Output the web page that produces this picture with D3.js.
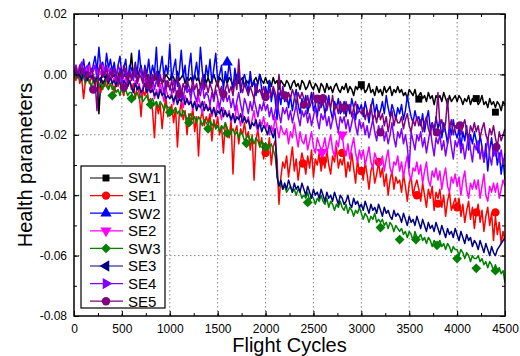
<!DOCTYPE html>
<html>
<head>
<meta charset="utf-8">
<script src="https://cdn.jsdelivr.net/npm/d3@7"></script>
<style>
body { margin: 0; background: #fff; }
svg { display: block; }
text { font-family: Arial, "Liberation Sans", sans-serif; fill: #000; }
</style>
</head>
<body>
<svg id="chart" width="520" height="356"></svg>
<script>
// health parameter values, in units of 1e-3,
// one sample every cycleStep flight cycles (0 .. 4500), one row = 200 cycles
const cycleStep = 20;

const sw1 = [
  0, 1, -1, 0, 2, -1, 1, -2, 0, 1,
  -1, -3, 0, -13, -2, 1, -1, 0, -2, 1,
  -1, 0, -3, -1, 2, -2, 0, -1, -3, 0,
  7, -1, 0, -2, 1, 3, -1, -3, 0, -2,
  -1, -3, 0, -2, 1, -1, -3, -2, 0, -1,
  -2, 0, -1, -3, 1, -2, -1, 0, -3, -1,
  -2, -1, -3, 0, -2, -1, -4, -2, 0, -3,
  -1, -3, -2, 0, -2, -4, -1, -2, -3, -1,
  -3, -1, -2, -4, -2, 0, -3, -2, -1, -4,
  -2, -3, -1, -4, -2, -1, -3, 0, -2, -3,
  -1, -3, -2, -4, -1, -3, -2, -5, -2, -3,
  -4, -2, -3, -5, -3, -2, -4, -3, -5, -2,
  -3, -5, -4, -2, -4, -5, -3, -4, -6, -3,
  -4, -6, -3, -5, -4, -6, -4, -3, -5, -6,
  -4, -5, -3, -6, -4, -5, -7, -4, -5, -3,
  -5, -4, -6, -5, -3, -6, -5, -7, -4, -6,
  -5, -7, -4, -6, -5, -4, -7, -5, -6, -4,
  -6, -5, -7, -6, -8, -5, -6, -7, -5, -8,
  -7, -6, -8, -7, -9, -6, -8, -7, -10, -7,
  -8, -7, -9, -6, -8, -10, -7, -9, -8, -7,
  -9, -7, -8, -10, -8, -9, -7, -10, -8, -9,
  -8, -10, -9, -7, -10, -9, -11, -8, -10, -9,
  -11, -9, -10, -12, -9, -10
];
const se1 = [
  0, -2, 1, -3, -1, -8, -2, 0, -3, -1,
  -2, -4, -1, -3, -6, -2, -4, -1, -5, -3,
  -3, -6, -2, -4, -1, -5, -7, -3, -4, -2,
  -5, -3, -8, -4, -6, -14, -5, -7, -4, -9,
  -8, -12, -21, -9, -13, -10, -18, -11, -8, -14,
  -12, -10, -16, -11, -24, -13, -9, -15, -12, -20,
  -13, -16, -11, -19, -14, -27, -15, -12, -17, -14,
  -16, -13, -22, -15, -18, -14, -20, -17, -26, -16,
  -18, -21, -15, -33, -19, -17, -23, -18, -20, -16,
  -21, -19, -25, -20, -35, -22, -18, -24, -21, -28,
  -23, -26, -21, -30, -24, -22, -28, -43, -34, -29,
  -31, -27, -34, -29, -24, -32, -28, -35, -30, -26,
  -29, -33, -27, -31, -25, -34, -28, -30, -26, -32,
  -28, -31, -25, -30, -33, -27, -29, -24, -31, -28,
  -30, -27, -34, -29, -32, -26, -31, -36, -28, -33,
  -31, -35, -29, -33, -38, -32, -30, -36, -33, -29,
  -34, -31, -37, -33, -40, -35, -32, -38, -34, -36,
  -35, -39, -33, -37, -42, -36, -34, -40, -37, -35,
  -38, -42, -36, -40, -44, -38, -41, -37, -45, -39,
  -41, -38, -44, -40, -47, -42, -39, -45, -43, -41,
  -44, -41, -47, -43, -49, -45, -42, -48, -44, -51,
  -46, -43, -49, -45, -52, -47, -44, -50, -46, -55,
  -47, -53, -49, -56, -52, -55
];
const sw2 = [
  0, 2, -1, 3, 1, 5, 0, 2, 4, -1,
  3, 6, 1, 9, 2, 4, 0, 7, 2, 5,
  1, 4, -1, 3, 6, 0, 2, 5, -2, 3,
  2, -1, 4, 0, 8, 1, -2, 3, 0, 5,
  -1, 3, 0, 9, -3, 2, 6, -1, 3, 0,
  10, -2, 2, 5, -4, 1, 8, -1, 3, -5,
  2, 7, -3, 0, 4, -2, 9, 1, -4, 3,
  -1, 5, -3, 2, 7, -2, 0, 3, -5, 1,
  -2, 4, -1, -5, 2, -3, 1, -6, -2, 0,
  -3, -6, 1, -4, -2, -7, -3, 0, -5, -8,
  -4, -7, -2, -9, -5, -8, -15, -6, -10, -4,
  -9, -6, -11, -7, -12, -8, -5, -10, -13, -8,
  -11, -7, -13, -9, -6, -12, -10, -14, -8, -11,
  -9, -13, -10, -7, -12, -15, -9, -11, -8, -13,
  -12, -9, -14, -10, -13, -8, -11, -15, -10, -12,
  -10, -14, -9, -12, -16, -11, -8, -13, -10, -14,
  -12, -9, -13, -7, -11, -14, -10, -12, -15, -11,
  -13, -10, -15, -12, -7, -11, -14, -16, -12, -15,
  -14, -17, -13, -19, -15, -12, -18, -16, -20, -14,
  -18, -15, -21, -16, -19, -23, -17, -20, -15, -19,
  -21, -18, -24, -19, -22, -17, -25, -20, -23, -19,
  -22, -26, -20, -24, -29, -23, -32, -25, -21, -27,
  -24, -30, -26, -33, -28, -35
];
const se2 = [
  0, 3, 1, 2, 4, 0, 2, 1, 3, 0,
  1, 3, -1, 2, 0, 3, 1, -1, 2, 0,
  -3, -1, -4, -2, 0, -5, -3, -1, -4, -2,
  -4, -6, -2, -5, -3, -7, -4, -2, -6, -5,
  -6, -4, -8, -5, -7, -3, -6, -9, -5, -7,
  -8, -6, -10, -7, -9, -5, -8, -11, -7, -9,
  -10, -8, -12, -9, -11, -7, -10, -13, -9, -11,
  -12, -10, -14, -11, -13, -9, -12, -15, -11, -13,
  -14, -12, -16, -13, -15, -10, -14, -17, -13, -15,
  -16, -14, -18, -15, -12, -17, -19, -15, -17, -14,
  -18, -16, -20, -17, -19, -14, -18, -21, -17, -19,
  -20, -18, -23, -19, -21, -16, -20, -24, -19, -22,
  -23, -20, -25, -22, -19, -24, -26, -21, -23, -25,
  -24, -21, -26, -23, -20, -25, -27, -22, -24, -19,
  -20, -25, -27, -23, -28, -24, -21, -26, -29, -25,
  -28, -25, -30, -27, -24, -29, -31, -26, -28, -30,
  -30, -27, -32, -28, -25, -31, -33, -29, -30, -27,
  -32, -29, -34, -30, -27, -33, -35, -31, -32, -29,
  -33, -30, -36, -32, -29, -35, -37, -32, -34, -31,
  -35, -32, -38, -34, -31, -37, -39, -34, -36, -33,
  -37, -34, -40, -35, -32, -38, -41, -36, -38, -35,
  -38, -35, -41, -37, -33, -40, -42, -37, -39, -36,
  -39, -36, -41, -38, -35, -37
];
const sw3 = [
  0, -1, 1, -2, 0, -1, -3, -1, -2, -4,
  -2, -3, -1, -4, -3, -5, -2, -4, -5, -3,
  -5, -4, -6, -5, -7, -4, -6, -5, -7, -6,
  -6, -8, -7, -6, -8, -7, -9, -8, -7, -9,
  -9, -8, -10, -9, -11, -9, -10, -12, -10, -11,
  -11, -13, -12, -11, -13, -12, -14, -12, -13, -15,
  -14, -13, -15, -14, -16, -14, -15, -17, -15, -16,
  -17, -15, -17, -16, -18, -17, -19, -17, -18, -16,
  -18, -20, -19, -18, -20, -19, -21, -19, -20, -22,
  -21, -20, -22, -21, -23, -21, -22, -24, -22, -23,
  -23, -25, -24, -23, -25, -27, -33, -37, -36, -38,
  -37, -39, -38, -37, -39, -38, -40, -38, -39, -41,
  -40, -41, -39, -42, -40, -41, -43, -41, -42, -40,
  -42, -43, -41, -44, -42, -43, -45, -43, -44, -42,
  -44, -45, -43, -46, -44, -45, -47, -45, -46, -44,
  -46, -48, -46, -47, -49, -47, -48, -46, -49, -48,
  -49, -48, -50, -49, -51, -49, -50, -52, -50, -51,
  -52, -51, -53, -52, -54, -52, -53, -55, -52, -54,
  -54, -53, -55, -54, -56, -54, -55, -57, -55, -56,
  -56, -55, -57, -56, -58, -56, -57, -59, -57, -58,
  -58, -60, -58, -59, -61, -59, -60, -62, -60, -61,
  -61, -60, -62, -61, -63, -62, -64, -62, -63, -65,
  -63, -65, -64, -66, -65, -69
];
const se3 = [
  0, 1, -1, 0, -2, 1, -1, -2, 0, -1,
  -1, -3, 0, -2, -1, -3, -2, 0, -3, -1,
  -3, -2, -4, -1, -3, -5, -2, -3, -4, -2,
  -4, -6, -3, -5, -4, -6, -5, -3, -6, -4,
  -6, -5, -7, -6, -8, -5, -7, -6, -8, -7,
  -8, -7, -9, -7, -10, -8, -9, -7, -10, -8,
  -10, -9, -11, -9, -12, -10, -11, -9, -12, -10,
  -12, -11, -13, -11, -14, -12, -13, -11, -14, -12,
  -14, -13, -15, -13, -16, -14, -15, -13, -16, -14,
  -16, -15, -18, -16, -17, -15, -18, -16, -19, -17,
  -18, -20, -17, -19, -21, -18, -34, -37, -35, -38,
  -36, -38, -35, -37, -39, -36, -38, -37, -39, -36,
  -38, -40, -37, -39, -41, -38, -40, -39, -41, -38,
  -40, -42, -39, -41, -40, -42, -39, -41, -43, -40,
  -41, -43, -42, -40, -43, -44, -41, -43, -42, -44,
  -43, -45, -42, -44, -46, -43, -45, -44, -46, -43,
  -45, -47, -44, -46, -45, -47, -48, -45, -47, -46,
  -47, -49, -46, -48, -50, -47, -49, -48, -50, -47,
  -49, -51, -48, -50, -52, -49, -51, -50, -52, -49,
  -51, -53, -50, -52, -54, -51, -53, -52, -54, -51,
  -53, -55, -52, -54, -56, -53, -55, -54, -57, -55,
  -56, -58, -55, -57, -59, -56, -58, -60, -57, -59,
  -60, -58, -57, -56, -55, -54
];
const se4 = [
  0, 3, -1, 2, 4, 0, 2, 3, -1, 2,
  1, 3, -1, 2, 4, 0, 1, 3, -2, 2,
  0, 2, -2, 3, 1, -3, 0, 2, -2, 1,
  0, -2, 2, -3, -1, 2, -2, 0, -3, -1,
  -3, -1, -5, -2, -4, 0, -3, -6, -2, -4,
  -4, -6, -2, -5, -7, -3, -5, -8, -4, -6,
  -5, -8, -4, -7, -9, -5, -7, -3, -8, -6,
  -7, -10, -6, -9, -5, -8, -11, -7, -9, -6,
  -9, -7, -11, -8, -12, -9, -6, -10, -13, -8,
  -10, -13, -9, -12, -8, -11, -14, -10, -12, -9,
  -12, -10, -14, -11, -15, -12, -9, -13, -16, -11,
  -13, -11, -15, -12, -16, -13, -10, -14, -17, -12,
  -14, -12, -16, -13, -17, -14, -11, -15, -18, -13,
  -15, -13, -17, -14, -18, -15, -12, -16, -19, -14,
  -16, -14, -18, -15, -19, -16, -13, -17, -20, -15,
  -18, -16, -20, -17, -21, -18, -15, -19, -22, -17,
  -20, -17, -22, -19, -23, -20, -16, -21, -24, -19,
  -21, -18, -23, -20, -24, -31, -19, -22, -25, -20,
  -22, -19, -24, -21, -26, -22, -18, -23, -27, -21,
  -23, -20, -25, -22, -27, -23, -19, -24, -28, -22,
  -24, -21, -26, -23, -28, -24, -20, -25, -29, -23,
  -25, -22, -28, -24, -29, -26, -21, -27, -30, -24,
  -27, -24, -29, -25, -30, -26
];
const se5 = [
  0, 2, -1, 3, 0, 2, -2, 1, -1, 2,
  0, -2, -12, 1, 3, -1, 0, 2, -2, 1,
  -1, 2, 0, -3, 1, -1, 3, 0, -2, 1,
  -2, 1, 3, -3, 0, -1, -3, 2, -2, 0,
  -3, 0, -2, 1, -4, -1, -3, 0, -5, -2,
  -5, -2, -6, -3, -1, -4, -7, -3, -5, -2,
  -4, -6, -2, -5, -3, -7, -4, -1, -5, -3,
  -6, -3, -5, -8, -4, -2, -6, -4, -7, -5,
  -3, -6, -4, -7, -2, -5, 5, -4, -6, -3,
  -5, -7, -4, -6, -8, -3, -6, -5, -7, -4,
  -6, -8, -5, -7, -4, -6, -9, 0, -7, -5,
  -7, -9, -6, -8, -5, -7, -10, -6, -8, -6,
  -8, -10, -7, -11, -9, -6, -10, -8, -12, -9,
  -10, -8, -12, -9, -11, -7, -12, -10, -13, -9,
  -11, -13, -9, -12, -10, -14, -11, -9, -13, -12,
  -13, -11, -15, -12, -14, -10, -15, -13, -16, -12,
  -15, -13, -17, -14, -19, -15, -12, -17, -14, -16,
  -16, -14, -18, -15, -13, -17, -19, -15, -17, -14,
  -17, -15, -19, -16, -14, -18, -20, -16, -18, -15,
  -6, -17, -15, -19, -16, -8, -18, -15, -20, -17,
  -18, -16, -20, -17, -15, -19, -21, -17, -19, -16,
  -19, -17, -21, -18, -16, -20, -22, -18, -20, -17,
  -21, -24, -19, -22, -20, -18
];

// symbol positions seen on the figure: [flight cycle, value * 1e3]
const markSW1 = [[3000, -3.4], [3600, -8.2], [4200, -8], [4400, -12.5]];
const markSE1 = [[2000, -26], [2390, -29.5], [2600, -28.5], [2800, -26], [3000, -32], [3180, -29],
                 [3580, -40], [3800, -42.8], [4000, -44], [4200, -45.7], [4400, -45.7]];
const markSW2 = [[1600, 4]];
const markSE2 = [[2590, -25.8], [2800, -20]];
const markSW3 = [[400, -7], [600, -8], [800, -10], [1000, -12.5], [1200, -16], [1400, -18], [1600, -19.5],
                 [1800, -22.8], [2000, -24], [2440, -42.4], [3200, -50.7], [3400, -54.7], [3570, -54.7],
                 [3790, -56.6], [4000, -61], [4200, -64.2], [4400, -65]];
const markSE3 = [];
const markSE4 = [];
const markSE5 = [[200, -5], [520, -4.3], [780, -3.6], [1100, -6.5], [1560, -6.5], [2000, -7.5], [2200, -7],
                 [2400, -10], [2540, -8], [2600, -7.9], [2810, -11], [3200, -19.2], [3790, -19.2],
                 [4030, -16.9], [4410, -24]];

const seriesNames = ["SW1", "SE1", "SW2", "SE2", "SW3", "SE3", "SE4", "SE5"];
const seriesColors = ["#000000", "#ff0000", "#0000ff", "#ff00ff", "#008000", "#000080", "#8000ff", "#800080"];

const xTicks = [0, 500, 1000, 1500, 2000, 2500, 3000, 3500, 4000, 4500];
const yTicks = [20, 0, -20, -40, -60, -80];

const seriesValues = [sw1, se1, sw2, se2, sw3, se3, se4, se5];
const seriesMarks = [markSW1, markSE1, markSW2, markSE2, markSW3, markSE3, markSE4, markSE5];
// symbol type, rotation and size per series (square, circle, up, down, diamond, left, right, circle)
const seriesSymbols = [
  [d3.symbolSquare, 0, 48], [d3.symbolCircle, 0, 55], [d3.symbolTriangle, 0, 55], [d3.symbolTriangle, 180, 55],
  [d3.symbolSquare, 45, 48], [d3.symbolTriangle, -90, 55], [d3.symbolTriangle, 90, 55], [d3.symbolCircle, 0, 55]
];

const svg = d3.select("#chart");
const pLeft = 74, pRight = 505, pTop = 14, pBottom = 316;

const x = d3.scaleLinear().domain([0, 4500]).range([pLeft, pRight]);
const y = d3.scaleLinear().domain([-80, 20]).range([pBottom, pTop]);

// dotted grid
const grid = svg.append("g").attr("stroke", "#888").attr("stroke-width", 1).attr("stroke-dasharray", "1.5,2.5");
grid.selectAll(".gx").data(xTicks.slice(1, -1)).enter().append("line")
  .attr("x1", d => x(d)).attr("x2", d => x(d)).attr("y1", pTop).attr("y2", pBottom);
grid.selectAll(".gy").data(yTicks.slice(1, -1)).enter().append("line")
  .attr("x1", pLeft).attr("x2", pRight).attr("y1", d => y(d)).attr("y2", d => y(d));

svg.append("clipPath").attr("id", "plotClip").append("rect")
  .attr("x", pLeft).attr("y", pTop).attr("width", pRight - pLeft).attr("height", pBottom - pTop);

const line = d3.line()
  .x((d, i) => x(i * cycleStep))
  .y(d => y(d));

const plot = svg.append("g").attr("clip-path", "url(#plotClip)");
seriesValues.forEach((vals, k) => {
  plot.append("path")
    .datum(vals)
    .attr("fill", "none")
    .attr("stroke", seriesColors[k])
    .attr("stroke-width", 1.5)
    .attr("stroke-linejoin", "round")
    .attr("d", line);
  const [type, rot, size] = seriesSymbols[k];
  plot.selectAll(".m" + k)
    .data(seriesMarks[k])
    .enter()
    .append("path")
      .attr("d", d3.symbol().type(type).size(size))
      .attr("fill", seriesColors[k])
      .attr("transform", d => "translate(" + x(d[0]) + "," + y(d[1]) + ") rotate(" + rot + ")");
});

// axes, ticks pointing inwards on all four sides
const fmt = v => (v / 1000).toFixed(2);
const minorX = d3.range(0, 4501, 250);
const minorY = d3.range(-80, 21, 10);

function axisGroup(axis, tx, ty) {
  const g = svg.append("g").attr("transform", "translate(" + tx + "," + ty + ")").call(axis);
  g.select(".domain").remove();
  g.selectAll("line").attr("stroke", "#000").attr("stroke-width", 1);
  return g;
}

const bx = axisGroup(d3.axisBottom(x).tickValues(xTicks).tickFormat(d3.format("d"))
  .tickSizeInner(-5).tickSizeOuter(0).tickPadding(8), 0, pBottom);
bx.selectAll("text").attr("font-size", 12).attr("font-family", "Arial, 'Liberation Sans', sans-serif");
axisGroup(d3.axisBottom(x).tickValues(minorX).tickFormat("").tickSizeInner(-3).tickSizeOuter(0), 0, pBottom);
axisGroup(d3.axisTop(x).tickValues(xTicks).tickFormat("").tickSizeInner(-5).tickSizeOuter(0), 0, pTop);
axisGroup(d3.axisTop(x).tickValues(minorX).tickFormat("").tickSizeInner(-3).tickSizeOuter(0), 0, pTop);

const ly = axisGroup(d3.axisLeft(y).tickValues(yTicks).tickFormat(fmt)
  .tickSizeInner(-5).tickSizeOuter(0).tickPadding(7), pLeft, 0);
ly.selectAll("text").attr("font-size", 12).attr("font-family", "Arial, 'Liberation Sans', sans-serif");
axisGroup(d3.axisLeft(y).tickValues(minorY).tickFormat("").tickSizeInner(-3).tickSizeOuter(0), pLeft, 0);
axisGroup(d3.axisRight(y).tickValues(yTicks).tickFormat("").tickSizeInner(-5).tickSizeOuter(0), pRight, 0);
axisGroup(d3.axisRight(y).tickValues(minorY).tickFormat("").tickSizeInner(-3).tickSizeOuter(0), pRight, 0);

svg.append("rect")
  .attr("x", pLeft).attr("y", pTop).attr("width", pRight - pLeft).attr("height", pBottom - pTop)
  .attr("fill", "none").attr("stroke", "#000").attr("stroke-width", 1.5);

// axis titles
svg.append("text")
  .attr("x", (pLeft + pRight) / 2).attr("y", 352)
  .attr("text-anchor", "middle").attr("font-size", 20)
  .text("Flight Cycles");
svg.append("text")
  .attr("transform", "translate(32," + (pTop + pBottom) / 2 + ") rotate(-90)")
  .attr("text-anchor", "middle").attr("font-size", 20)
  .text("Health parameters");

// legend
const legend = svg.append("g");
legend.append("rect")
  .attr("x", 81).attr("y", 166).attr("width", 84).attr("height", 142)
  .attr("fill", "#fff").attr("stroke", "#000").attr("stroke-width", 1.2);
seriesNames.forEach((name, k) => {
  const ey = 178 + k * 17.6;
  legend.append("line")
    .attr("x1", 90).attr("x2", 123).attr("y1", ey).attr("y2", ey)
    .attr("stroke", seriesColors[k]).attr("stroke-width", 1.2);
  const [type, rot, size] = seriesSymbols[k];
  legend.append("path")
    .attr("d", d3.symbol().type(type).size(size))
    .attr("fill", seriesColors[k])
    .attr("transform", "translate(106," + ey + ") rotate(" + rot + ")");
  legend.append("text")
    .attr("x", 128).attr("y", ey).attr("dy", "0.36em")
    .attr("font-size", 15)
    .text(name);
});
</script>
</body>
</html>
